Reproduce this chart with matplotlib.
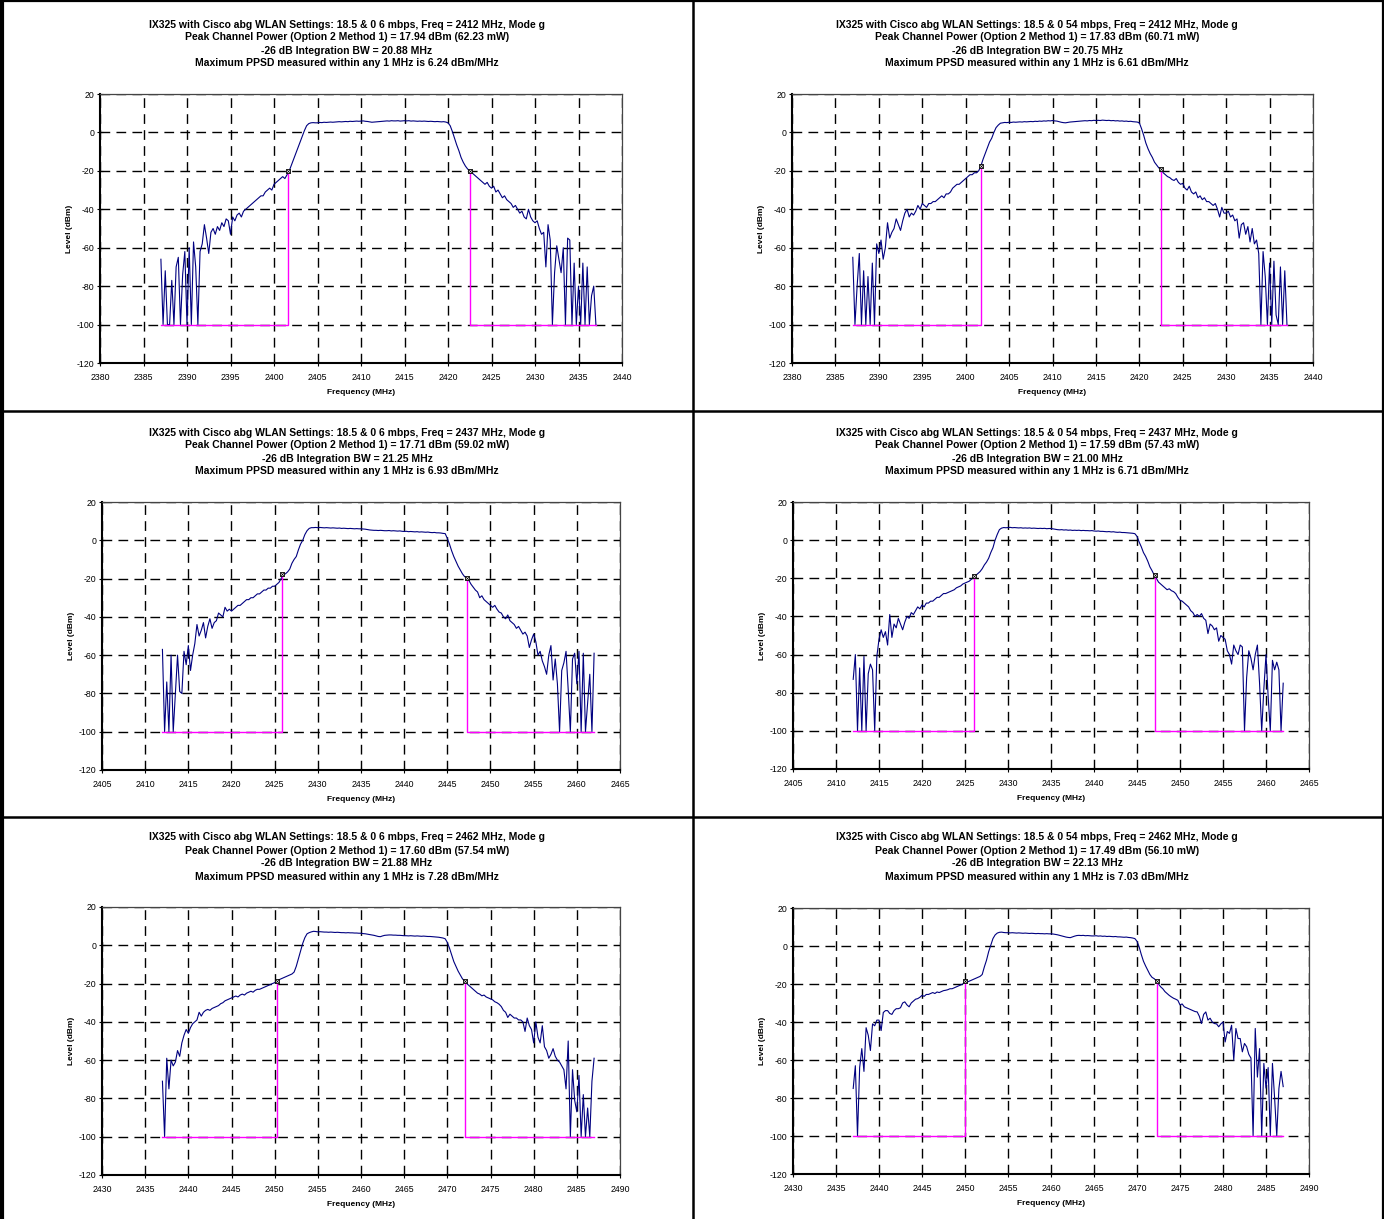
import numpy as np
import matplotlib
matplotlib.use("Agg")
import matplotlib.pyplot as plt
from matplotlib.lines import Line2D

plt.rcParams["font.family"] = ["Liberation Sans", "DejaVu Sans"]
plt.rcParams["axes.unicode_minus"] = False

# Test settings for each panel (row by row, left to right)
center_freqs = [2412, 2412, 2437, 2437, 2462, 2462]
data_rates = [6, 54, 6, 54, 6, 54]
peak_power_dbm = [17.94, 17.83, 17.71, 17.59, 17.60, 17.49]
peak_power_mw = [62.23, 60.71, 59.02, 57.43, 57.54, 56.10]
integration_bw = [20.88, 20.75, 21.25, 21.00, 21.88, 22.13]
max_ppsd = [6.24, 6.61, 6.93, 6.71, 7.28, 7.03]

# -26 dB points (frequency, level)
band_low_mhz = [2401.6, 2401.8, 2425.9, 2426.1, 2450.3, 2450.0]
band_low_db = [-20, -17.5, -17.5, -18.6, -18.8, -18.6]
band_high_mhz = [2422.5, 2422.5, 2447.3, 2447.1, 2472.1, 2472.3]
band_high_db = [-20, -19, -19.5, -18.3, -18.6, -18.3]

# spectrum traces, one value every 0.25 MHz starting at center - 25 MHz
step_mhz = 0.25
span_start = -25

level_2412_6 = [
    -66, -100, -72, -100, -100, -77, -100, -70, -65, -100, -74, -62, -100, -60, -100, -57, -70, -100, -62, -58,
    -48, -55, -63, -52, -50, -53, -49, -51, -47, -49, -45, -46, -53, -44, -46, -43, -42, -44, -41, -40,
    -39, -38, -37, -36, -35, -34, -33, -33, -31, -30, -29, -30, -27, -26, -25, -24, -23, -24, -22, -20,
    -17, -14, -11, -8, -5, -2, 1, 3.5, 4.6, 5.0, 5.1, 5.0, 5.0, 5.2, 5.1, 5.3, 5.2, 5.3, 5.4, 5.3,
    5.4, 5.5, 5.6, 5.5, 5.6, 5.7, 5.6, 5.8, 5.7, 5.8, 5.9, 5.8, 5.9, 6.0, 5.8, 5.7, 5.5, 5.3, 5.4, 5.5,
    5.6, 5.7, 5.8, 5.9, 6.0, 5.9, 6.1, 6.0, 6.0, 6.1, 5.9, 6.0, 6.1, 6.0, 6.1, 5.9, 6.0, 5.9, 5.8, 5.9,
    5.8, 5.9, 5.8, 5.7, 5.8, 5.7, 5.6, 5.7, 5.6, 5.5, 5.6, 5.4, 5.0, 3.5, 0.5, -3.0, -6.5, -9.5, -13, -15.5,
    -17.5, -19, -20, -21, -22, -23, -24, -25, -26, -27, -26, -28, -29, -28, -31, -30, -32, -34, -33, -35,
    -36, -37, -39, -38, -40, -42, -41, -44, -45, -40, -44, -46, -47, -46, -50, -53, -52, -70, -48, -56,
    -100, -73, -59, -66, -73, -60, -100, -55, -56, -100, -68, -100, -80, -100, -68, -100, -70, -100, -85, -80,
    -100,
]

level_2412_54 = [
    -65, -100, -80, -63, -100, -72, -100, -75, -100, -68, -100, -58, -63, -56, -66, -60, -47, -55, -52, -50,
    -45, -48, -51, -46, -42, -40, -44, -42, -43, -41, -38, -40, -37, -38, -39, -37, -37, -36, -36, -35,
    -34, -33, -34, -32, -32, -31, -29, -28, -27, -27, -26, -25, -24, -23, -22, -22, -21, -21, -20, -17.5,
    -14, -11, -8, -5, -3, 0, 2.5, 3.8, 4.8, 5.0, 5.2, 5.1, 5.3, 5.2, 5.4, 5.3, 5.4, 5.5, 5.4, 5.6,
    5.5, 5.6, 5.7, 5.6, 5.8, 5.7, 5.9, 5.8, 6.0, 5.9, 6.1, 6.0, 6.2, 6.0, 5.9, 5.6, 5.3, 5.1, 5.0, 5.2,
    5.4, 5.5, 5.6, 5.7, 5.8, 5.9, 6.0, 6.1, 6.0, 6.2, 6.1, 6.3, 6.2, 6.3, 6.2, 6.4, 6.3, 6.2, 6.3, 6.1,
    6.2, 6.0, 6.1, 5.9, 6.0, 5.8, 5.9, 5.7, 5.8, 5.6, 5.5, 5.4, 5.0, 2.0, -1.5, -5.5, -8.5, -11, -13, -15.5,
    -17, -18.5, -19, -21, -22, -23, -23.5, -24.5, -25, -24, -26, -27, -26.5, -29, -30, -28, -31, -32, -31, -34,
    -33, -35, -34, -36, -36, -37, -38, -37, -40, -44, -39, -42, -42, -41, -44, -43, -46, -45, -55, -48,
    -47, -53, -49, -57, -50, -58, -56, -63, -100, -62, -75, -100, -68, -100, -67, -95, -100, -70, -100, -72,
    -100,
]

level_2437_6 = [
    -57, -100, -74, -100, -60, -100, -80, -60, -79, -80, -58, -65, -55, -68, -60, -54, -44, -50, -47, -43,
    -51, -45, -41, -46, -43, -42, -38, -39, -40, -35, -37, -36, -37, -36, -35, -34, -34, -33, -32, -31,
    -31, -30, -30, -29, -28, -28, -27, -26, -26, -25, -25, -24, -24, -23, -22, -20, -18, -17.5, -16.5, -15,
    -12, -10, -8.5, -5, -2, 0, 3, 5, 6.2, 6.6, 6.6, 6.7, 6.6, 6.7, 6.6, 6.5, 6.6, 6.5, 6.4, 6.5,
    6.4, 6.3, 6.4, 6.2, 6.3, 6.2, 6.1, 6.2, 6.1, 6.0, 6.1, 6.0, 6.0, 5.9, 5.8, 5.6, 5.4, 5.3, 5.2, 5.2,
    5.1, 5.2, 5.1, 5.0, 5.0, 5.1, 4.9, 5.0, 4.9, 4.8, 4.9, 4.7, 4.6, 4.7, 4.5, 4.6, 4.5, 4.4, 4.5, 4.3,
    4.4, 4.3, 4.2, 4.3, 4.1, 4.0, 4.1, 3.9, 3.9, 3.8, 3.6, 3.5, 1.0, -2.0, -5.5, -8.5, -11, -13.5, -15.5, -17.5,
    -19, -19.5, -21, -23, -24.5, -26, -27, -30, -29, -31, -32, -33, -34, -35, -34, -36, -37.5, -38, -40, -41,
    -39, -42, -43, -44, -46, -45, -47, -49, -48, -50, -56, -52, -49, -53, -60, -58, -63, -66, -70, -60,
    -55, -73, -62, -75, -100, -68, -64, -58, -78, -100, -62, -59, -75, -58, -100, -59, -100, -85, -70, -100,
    -59,
]

level_2437_54 = [
    -73, -60, -100, -67, -100, -61, -100, -70, -65, -68, -100, -61, -52, -47, -51, -48, -55, -39, -51, -44,
    -46, -41, -44, -47, -43, -40, -41, -38, -39, -37, -35, -36, -34, -35, -33, -33, -32, -32, -31, -30,
    -30, -29, -28, -28, -27.5, -27, -26.5, -26, -25, -24.5, -24, -23, -22.5, -22, -21.5, -20.5, -19.5, -18.5, -17.5, -16.5,
    -15, -13, -11.5, -9.5, -6.5, -4, 0, 3, 5.5, 6.3, 6.6, 6.5, 6.6, 6.7, 6.5, 6.6, 6.5, 6.4, 6.5, 6.3,
    6.4, 6.3, 6.4, 6.2, 6.3, 6.2, 6.1, 6.2, 6.1, 6.2, 6.0, 6.1, 6.1, 5.9, 5.7, 5.5, 5.4, 5.5, 5.3, 5.4,
    5.2, 5.3, 5.1, 5.2, 5.1, 5.2, 5.0, 5.1, 5.0, 5.0, 4.9, 5.0, 4.8, 4.7, 4.8, 4.6, 4.6, 4.5, 4.4, 4.5,
    4.3, 4.4, 4.2, 4.1, 4.2, 4.0, 4.0, 3.9, 3.8, 3.7, 3.6, 3.4, 2.0, -1.0, -3.5, -6.5, -8.5, -11, -14, -16,
    -18.3, -20, -22, -23, -24, -25, -26, -25.5, -26.5, -27, -28, -30, -31.5, -32, -33, -34, -35, -37, -38, -40,
    -39, -40, -38.5, -41, -42, -49, -44, -45, -47, -46, -53, -50, -51, -52, -58, -60, -65, -55, -58, -60,
    -55, -56, -100, -72, -58, -62, -68, -60, -55, -75, -100, -78, -60, -82, -100, -63, -68, -64, -68, -100,
    -75,
]

level_2462_6 = [
    -71, -100, -59, -75, -60, -63, -61, -55, -58, -51, -47, -44, -46, -43, -41, -40, -39, -35, -37, -35,
    -34, -33.5, -34, -33, -32.5, -32, -31.5, -30.5, -30, -29, -28.5, -28, -27.5, -27, -26.5, -27, -26, -25.5, -26, -25,
    -24.5, -24, -24.5, -23.5, -23, -23, -22.5, -22, -21.5, -21, -20.5, -20, -19.5, -18.8, -18, -17.5, -17, -16.5, -16, -15.5,
    -15, -14, -11, -7, -3, 1, 4, 6, 6.6, 7.0, 7.3, 7.2, 7.0, 7.1, 7.0, 6.9, 6.9, 6.8, 6.9, 6.8,
    6.7, 6.8, 6.7, 6.6, 6.6, 6.5, 6.6, 6.5, 6.5, 6.4, 6.4, 6.3, 6.3, 6.1, 6.0, 5.8, 5.6, 5.4, 5.2, 4.9,
    4.6, 4.5, 4.9, 5.2, 5.3, 5.4, 5.4, 5.3, 5.3, 5.2, 5.2, 5.1, 5.0, 5.0, 4.9, 5.0, 4.9, 4.8, 4.9, 4.8,
    4.7, 4.8, 4.7, 4.6, 4.6, 4.5, 4.4, 4.3, 4.2, 4.0, 3.8, 3.4, 1.5, -1.5, -5, -8.5, -11, -13.5, -15.5, -17.5,
    -18.6, -20, -21, -22, -23, -24, -25, -25.5, -26.4, -26, -27, -27.5, -28, -28.5, -29.5, -30, -30.8, -32, -34, -35,
    -37.7, -36, -37, -38, -38, -39, -39, -40, -45, -38, -42, -44, -51, -40, -48, -51, -42, -53, -55, -59,
    -57, -54, -58, -60, -61, -63, -65, -75, -50, -100, -65, -81, -87, -68, -100, -78, -100, -85, -100, -71,
    -59,
]

level_2462_54 = [
    -75, -63, -100, -64, -54, -66, -43, -47, -55, -41, -42, -39, -39, -44.5, -35, -34, -34, -35.5, -36, -34,
    -33, -33, -32.5, -30, -29.4, -31, -32, -30, -29, -28, -27.7, -27, -26, -26.5, -25.5, -25.5, -25, -24.5, -25, -24.2,
    -24.5, -24, -23.5, -23.3, -23, -22.5, -22.5, -22, -21.5, -21, -20.5, -20, -18.6, -19, -18.5, -18, -17.5, -17, -16.5, -16,
    -15, -11, -7.5, -3, 0.5, 3.9, 5.8, 6.8, 7.2, 7.3, 7.1, 7.0, 7.0, 6.9, 7.0, 6.9, 6.8, 6.9, 6.8, 6.7,
    6.8, 6.7, 6.6, 6.7, 6.6, 6.5, 6.6, 6.5, 6.5, 6.4, 6.5, 6.4, 6.4, 6.3, 6.1, 5.9, 5.6, 5.3, 5.0, 4.7,
    4.5, 4.4, 4.8, 5.2, 5.5, 5.6, 5.5, 5.6, 5.4, 5.5, 5.4, 5.3, 5.3, 5.4, 5.2, 5.3, 5.1, 5.2, 5.0, 5.1,
    5.0, 4.9, 5.0, 4.8, 4.8, 4.7, 4.6, 4.7, 4.5, 4.4, 4.2, 3.9, 2.5, -0.5, -4.5, -8, -10.5, -12.8, -15, -16.5,
    -17.2, -18.3, -20, -21.5, -22.5, -24, -25, -26, -26.8, -27.5, -28, -28.6, -31, -30.5, -32, -32.5, -33, -33.5, -34, -34.5,
    -34.7, -37, -40.8, -36, -34.7, -39, -38, -40, -40.8, -41, -42.5, -41, -40, -50.5, -45, -46, -41.7, -60, -43.4, -48.7,
    -48.7, -55.7, -51.3, -53, -57, -59, -100, -43.4, -69, -54, -100, -61.8, -74.8, -64, -100, -61.8, -80, -100, -75, -66,
    -74,
]

traces = [level_2412_6, level_2412_54, level_2437_6, level_2437_54, level_2462_6, level_2462_54]

W, H = 1384, 1219
fig = plt.figure(figsize=(W / 100, H / 100), dpi=100)

# axes boxes in pixels: left, right, top, bottom
boxes = [
    (100, 622, 94, 363), (792, 1313, 94, 363),
    (102, 620, 502, 770), (793, 1309, 502, 769),
    (102, 620, 907, 1175), (793, 1309, 908, 1174),
]
title_x = [347, 1037, 347, 1037, 347, 1037]
title_y0 = [24.5, 24.5, 432.5, 432.5, 837.5, 837.5]

for i, level in enumerate(traces):
    l, r, t, b = boxes[i]
    ax = fig.add_axes([l / W, 1 - b / H, (r - l) / W, (b - t) / H])
    fc = center_freqs[i]
    level = np.array(level, dtype=float)
    freq = fc + span_start + step_mhz * np.arange(len(level))

    ax.plot(freq, level, color="#000080", lw=0.8, zorder=3)

    # integration mask outside the -26 dB band
    ax.plot([freq[0], band_low_mhz[i], band_low_mhz[i]], [-100, -100, band_low_db[i]],
            color="#ff00ff", lw=1.0, zorder=4)
    ax.plot([band_high_mhz[i], band_high_mhz[i], freq[-1]], [band_high_db[i], -100, -100],
            color="#ff00ff", lw=1.0, zorder=4)

    mk_f = [band_low_mhz[i], band_high_mhz[i]]
    mk_d = [band_low_db[i], band_high_db[i]]
    ax.plot(mk_f, mk_d, ls="none", marker="s", ms=3.5, mfc="white", mec="black", mew=0.6, zorder=5)
    ax.plot(mk_f, mk_d, ls="none", marker="x", ms=2.6, mec="black", mew=0.5, zorder=6)

    x0 = fc - 32
    ax.set_xlim(x0, x0 + 60)
    ax.set_ylim(-120, 20)
    xt = np.arange(x0, x0 + 61, 5)
    ax.set_xticks(xt)
    ax.set_xticklabels([str(v) for v in xt])
    yt = np.arange(-120, 21, 20)
    ax.set_yticks(yt)
    ax.set_yticklabels([str(v) for v in yt])
    ax.grid(True, color="black", lw=1.0, linestyle=(0, (7, 4.5)))
    ax.set_axisbelow(True)
    ax.tick_params(direction="inout", length=4, width=0.8, labelsize=6.3)
    ax.tick_params(axis="x", pad=5)
    ax.tick_params(axis="y", pad=2)

    for s in ["left", "bottom"]:
        ax.spines[s].set_linewidth(1.5)
        ax.spines[s].set_color("black")
    for s in ["top", "right"]:
        ax.spines[s].set_linewidth(0.9)
        ax.spines[s].set_color("#444444")

    ax.set_xlabel("Frequency (MHz)", fontsize=6.0, fontweight="bold", labelpad=5)
    ax.set_ylabel("Level (dBm)", fontsize=6.0, fontweight="bold", labelpad=3)

    lines = [
        f"IX325 with Cisco abg WLAN Settings: 18.5 & 0 {data_rates[i]} mbps, Freq = {fc} MHz, Mode g",
        f"Peak Channel Power (Option 2 Method 1) = {peak_power_dbm[i]:.2f} dBm ({peak_power_mw[i]:.2f} mW)",
        f"-26 dB Integration BW = {integration_bw[i]:.2f} MHz",
        f"Maximum PPSD measured within any 1 MHz is {max_ppsd[i]:.2f} dBm/MHz",
    ]
    for k, txt in enumerate(lines):
        fig.text(title_x[i] / W, 1 - (title_y0[i] + 13 * k) / H, txt, ha="center", va="center",
                 fontsize=7.45, fontweight="bold")

# panel frame lines
def frame_line(x0, y0, x1, y1, lw):
    fig.add_artist(Line2D([x0 / W, x1 / W], [1 - y0 / H, 1 - y1 / H], transform=fig.transFigure,
                          color="black", lw=lw, solid_capstyle="butt"))

frame_line(2, 0, 2, H, 3.0)
frame_line(0, 1, W, 1, 1.6)
frame_line(692.5, 0, 692.5, H, 1.8)
frame_line(1382.5, 0, 1382.5, H, 1.6)
frame_line(0, 411, W, 411, 1.8)
frame_line(0, 816.5, W, 816.5, 1.8)

fig.savefig("out.png", dpi=100)
